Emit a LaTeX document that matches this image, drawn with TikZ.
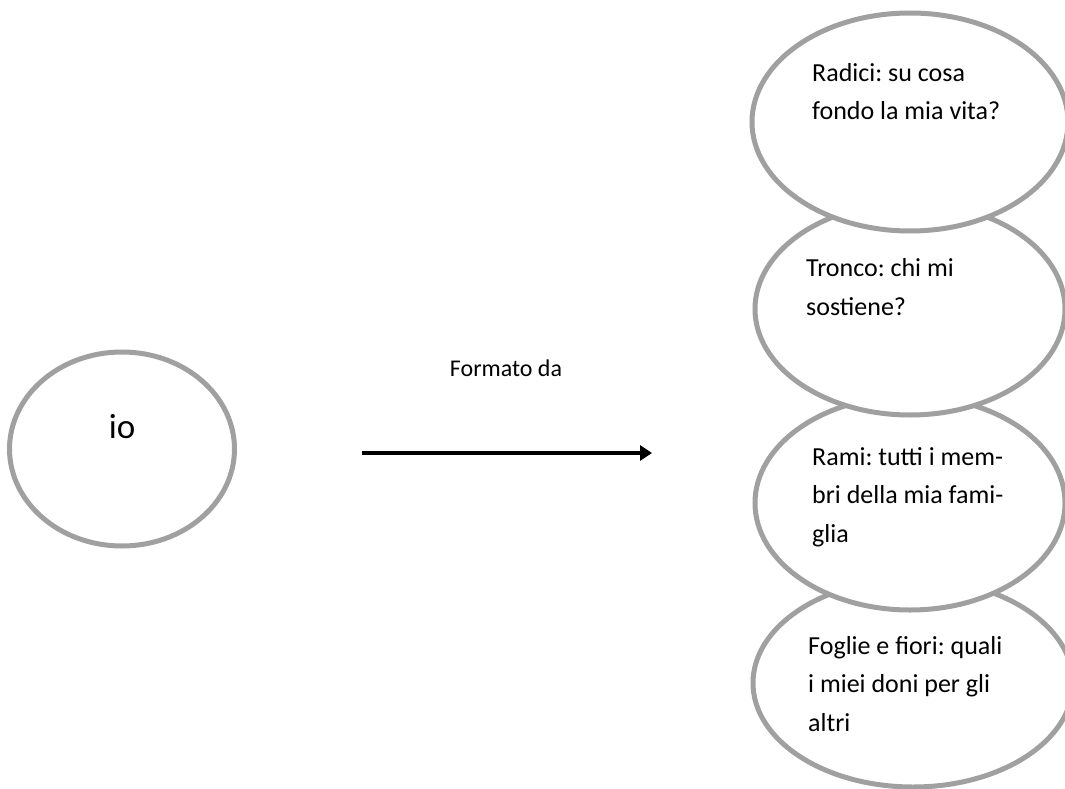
\documentclass[tikz,border=0pt]{standalone}
\usepackage{fontspec}
\setmainfont{Carlito}
\usetikzlibrary{positioning,arrows.meta,shapes.geometric}
\definecolor{rim}{RGB}{160,160,160}
\frenchspacing

\begin{document}
\begin{tikzpicture}[x=1pt,y=-1pt,>={Triangle[length=12pt,width=15pt]},
  oval/.style={ellipse,draw=rim,fill=white,line width=5pt,inner sep=0pt},
  qtxt/.style={anchor=base west,align=left,inner sep=0pt,font=\fontsize{26}{38.5}\selectfont}]
  \useasboundingbox (0,0) rectangle (1065,789);
  % left: the self
  \node[oval,minimum width=225pt,minimum height=194pt] (io) at (122,449) {};
  \node[anchor=base,font=\fontsize{35}{42}\selectfont] (iolbl) at (122,438) {io};
  % arrow
  \coordinate (arrS) at (362,453);
  \coordinate (arrE) at (652,453);
  \draw[->,line width=4pt] (arrS)--(arrE);
  \node[font=\fontsize{24}{30}\selectfont] (lbl) at (506,368) {Formato da};
  % right: the tree, lower ovals first so the upper ones lie on top
  \node[oval,minimum width=320pt,minimum height=208pt] (foglie) at (913,683) {};
  \node[oval,minimum width=310pt,minimum height=214pt] (rami) at (910,503) {};
  \node[oval,minimum width=310pt,minimum height=212pt] (tronco) at (910,309) {};
  \node[oval,minimum width=316pt,minimum height=218pt] (radici) at (910,122) {};
  % texts (base anchor = last line)
  \node[qtxt] (tr) at (812,120) {Radici: su cosa\\fondo la mia vita?};
  \node[qtxt] (tt) at (806,315) {Tronco: chi mi\\sostiene?};
  \node[qtxt] (tm) at (812,542) {Rami: tutti i mem-\\bri della mia fami-\\glia};
  \node[qtxt] (tf) at (808,731) {Foglie e fiori: quali\\i miei doni per gli\\altri};
\end{tikzpicture}
\end{document}
